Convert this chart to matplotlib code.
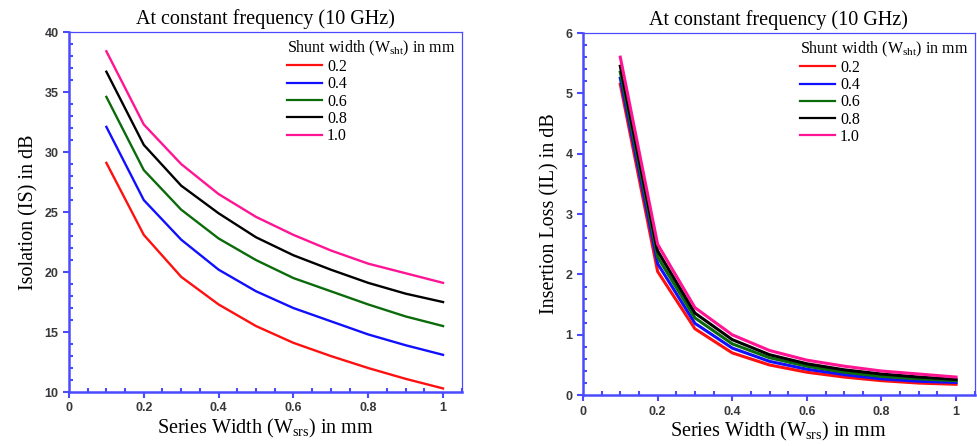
import numpy as np
import matplotlib
matplotlib.use("Agg")
import matplotlib.pyplot as plt
from matplotlib.ticker import MultipleLocator, FormatStrFormatter

plt.rcParams['mathtext.fontset'] = 'custom'
plt.rcParams['mathtext.rm'] = 'Liberation Serif'
plt.rcParams['mathtext.it'] = 'Liberation Serif'

# series width W_srs (mm)
series_width = [0.1, 0.2, 0.3, 0.4, 0.5, 0.6, 0.7, 0.8, 0.9, 1.0]
shunt_labels = ['0.2', '0.4', '0.6', '0.8', '1.0']
colors = ['#ff1010', '#1010ff', '#0b6b0b', '#000000', '#ff1493']

# isolation (dB) for each shunt width
iso_02 = [29.1, 23.1, 19.6, 17.3, 15.5, 14.1, 13.0, 12.0, 11.1, 10.3]
iso_04 = [32.1, 26.0, 22.7, 20.2, 18.4, 17.0, 15.9, 14.8, 13.9, 13.1]
iso_06 = [34.6, 28.5, 25.2, 22.8, 21.0, 19.5, 18.4, 17.3, 16.3, 15.5]
iso_08 = [36.7, 30.6, 27.2, 24.9, 22.9, 21.4, 20.2, 19.1, 18.2, 17.5]
iso_10 = [38.4, 32.3, 29.0, 26.5, 24.6, 23.1, 21.8, 20.7, 19.9, 19.1]

# insertion loss (dB) for each shunt width
il_02 = [5.15, 2.05, 1.10, 0.70, 0.50, 0.38, 0.30, 0.24, 0.20, 0.18]
il_04 = [5.25, 2.18, 1.19, 0.78, 0.56, 0.43, 0.34, 0.27, 0.23, 0.21]
il_06 = [5.35, 2.29, 1.28, 0.85, 0.62, 0.48, 0.38, 0.31, 0.27, 0.24]
il_08 = [5.45, 2.39, 1.36, 0.92, 0.67, 0.52, 0.42, 0.35, 0.30, 0.26]
il_10 = [5.60, 2.50, 1.45, 1.00, 0.74, 0.58, 0.48, 0.40, 0.35, 0.30]

frame_color = '#4a4aff'
serif = 'Liberation Serif'
sans = 'Liberation Sans'


def style_axes(ax, ylim, ymajor, yminor, yfmt):
    ax.set_xlim(0, 1.05)
    ax.set_ylim(*ylim)
    ax.xaxis.set_major_locator(MultipleLocator(0.2))
    ax.xaxis.set_minor_locator(MultipleLocator(0.05))
    ax.yaxis.set_major_locator(MultipleLocator(ymajor))
    ax.yaxis.set_minor_locator(MultipleLocator(yminor))
    ax.xaxis.set_major_formatter(lambda v, p: '0' if abs(v) < 1e-9 else ('1' if abs(v - 1) < 1e-9 else f'{v:.1f}'))
    ax.yaxis.set_major_formatter(FormatStrFormatter(yfmt))
    ax.tick_params(which='major', direction='out', length=4, width=1.5,
                   color=frame_color, labelsize=9, labelcolor='#383838')
    ax.tick_params(which='minor', direction='in', length=3, width=1.5, color=frame_color)
    ax.tick_params(top=False, right=False, which='both')
    for lab in ax.get_xticklabels() + ax.get_yticklabels():
        lab.set_fontfamily(sans)
        lab.set_fontweight('bold')
    for side in ['left', 'bottom']:
        ax.spines[side].set_linewidth(1.8)
        ax.spines[side].set_color(frame_color)
    for side in ['top', 'right']:
        ax.spines[side].set_linewidth(0.9)
        ax.spines[side].set_color(frame_color)
    ax.set_title('At constant frequency (10 GHz)', family=serif, fontsize=14.5, pad=6)
    ax.set_xlabel(r'Series Width (W$_{\mathrm{srs}}$) in mm', family=serif, fontsize=14.5, labelpad=2)
    leg = ax.legend(title=r'Shunt width (W$_{\mathrm{sht}}$) in mm', loc='upper right',
                    frameon=False, handlelength=2.2, handletextpad=0.3,
                    labelspacing=0.08, borderaxespad=0.1, borderpad=0.3,
                    alignment='left', prop={'family': serif, 'size': 11.5})
    leg.get_title().set_fontfamily(serif)
    leg.get_title().set_fontsize(11.5)
    for h in leg.get_lines():
        h.set_linewidth(1.6)


fig = plt.figure(figsize=(9.77, 4.46), dpi=100)
ax1 = fig.add_axes([0.0706, 0.121, 0.402, 0.807])
ax2 = fig.add_axes([0.5967, 0.114, 0.401, 0.812])

for vals, lab, c in zip([iso_02, iso_04, iso_06, iso_08, iso_10], shunt_labels, colors):
    ax1.plot(series_width, vals, color=c, lw=1.7, label=lab)
for vals, lab, c in zip([il_02, il_04, il_06, il_08, il_10], shunt_labels, colors):
    ax2.plot(series_width, vals, color=c, lw=2.2, label=lab)

style_axes(ax1, (10, 40), 5, 1, '%d')
style_axes(ax2, (0, 6), 1, 0.2, '%d')
ax1.set_ylabel('Isolation (IS) in dB', family=serif, fontsize=14.5, labelpad=4)
ax2.set_ylabel('Insertion Loss (IL) in dB', family=serif, fontsize=14.5, labelpad=4)

fig.savefig('out.png', dpi=100)
